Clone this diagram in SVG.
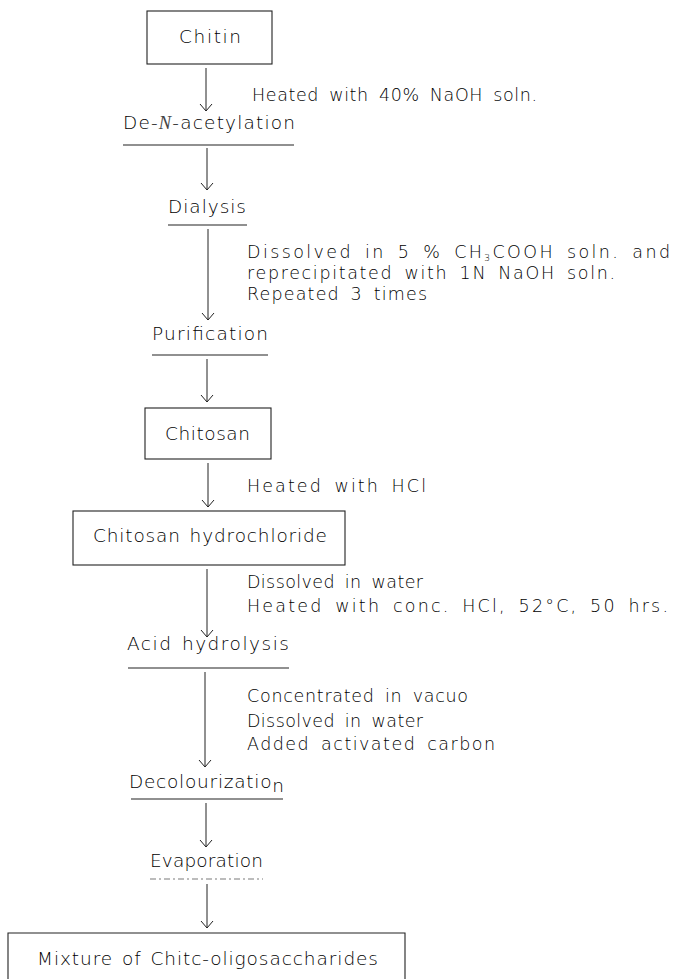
<svg xmlns="http://www.w3.org/2000/svg" width="676" height="979" viewBox="0 0 676 979">
<style>
text{font-family:"DejaVu Sans","Open Sans",sans-serif;font-weight:200;fill:#000;}
.lb{font-size:18.5px;word-spacing:2px;}
.an{font-size:17.5px;word-spacing:4px;}
.it{font-family:"Liberation Serif",serif;font-style:italic;font-weight:400;fill:#444;}
.box{fill:none;stroke:#222;stroke-width:1.1;}
.ul{stroke:#222;stroke-width:1.1;}
.ar{stroke:#222;stroke-width:1;fill:none;}
</style>
<defs>
<marker id="ah" viewBox="-9 -7 10 14" markerWidth="10" markerHeight="14" refX="0" refY="0" orient="auto" markerUnits="userSpaceOnUse">
<path d="M-7,-6 L0,0 L-7,6" fill="none" stroke="#222" stroke-width="1"/>
</marker>
</defs>
<rect width="676" height="979" fill="#fff"/>

<g id="chitin">
<rect class="box" x="147" y="11" width="125" height="53"/>
<text class="lb" x="179" y="43" textLength="62" lengthAdjust="spacing">Chitin</text>
</g>

<g id="deacetylation">
<text class="lb" x="123" y="129" textLength="172" lengthAdjust="spacing">De-<tspan class="it">N</tspan>-acetylation</text>
<line class="ul" x1="123" y1="145" x2="294" y2="145"/>
</g>

<g id="dialysis">
<text class="lb" x="168" y="213" textLength="78" lengthAdjust="spacing">Dialysis</text>
<line class="ul" x1="168" y1="225" x2="247" y2="225"/>
</g>

<g id="purification">
<text class="lb" x="152" y="340" textLength="116" lengthAdjust="spacing">Purification</text>
<line class="ul" x1="152" y1="355" x2="268" y2="355"/>
</g>

<g id="chitosan">
<rect class="box" x="145" y="408" width="126" height="51"/>
<text class="lb" x="165" y="440" textLength="85" lengthAdjust="spacing">Chitosan</text>
</g>

<g id="chitosan-hydrochloride">
<rect class="box" x="73" y="511" width="272" height="54"/>
<text class="lb" x="93" y="542" textLength="234" lengthAdjust="spacing">Chitosan hydrochloride</text>
</g>

<g id="acid-hydrolysis">
<text class="lb" x="127" y="650" textLength="162" lengthAdjust="spacing">Acid hydrolysis</text>
<line class="ul" x1="128" y1="668" x2="289" y2="668"/>
</g>

<g id="decolourization">
<text class="lb" x="129" y="788" textLength="155" lengthAdjust="spacing">Decolourizatio<tspan dy="4">n</tspan></text>
<line class="ul" x1="131" y1="799" x2="283" y2="799"/>
</g>

<g id="evaporation">
<text class="lb" x="150" y="867" textLength="113" lengthAdjust="spacing">Evaporation</text>
<line class="ul" x1="150" y1="879" x2="263" y2="879" stroke-dasharray="6 3 2 3" stroke-opacity="0.6"/>
</g>

<g id="mixture">
<path class="box" d="M8,985 V933 H405 V985"/>
<text class="lb" x="37" y="965" textLength="341" lengthAdjust="spacing">Mixture of Chitc-oligosaccharides</text>
</g>

<g id="connectors">
<line class="ar" x1="206" y1="68" x2="206" y2="111" marker-end="url(#ah)"/>
<line class="ar" x1="207" y1="148" x2="207" y2="190" marker-end="url(#ah)"/>
<line class="ar" x1="208" y1="229" x2="208" y2="320" marker-end="url(#ah)"/>
<line class="ar" x1="207" y1="359" x2="207" y2="402" marker-end="url(#ah)"/>
<line class="ar" x1="208" y1="463" x2="208" y2="507" marker-end="url(#ah)"/>
<line class="ar" x1="207" y1="569" x2="207" y2="637" marker-end="url(#ah)"/>
<line class="ar" x1="205" y1="672" x2="205" y2="767" marker-end="url(#ah)"/>
<line class="ar" x1="206" y1="803" x2="206" y2="847" marker-end="url(#ah)"/>
<line class="ar" x1="207" y1="884" x2="207" y2="928" marker-end="url(#ah)"/>
</g>

<g id="annotations">
<text class="an" x="252" y="101" textLength="285" lengthAdjust="spacing">Heated with 40% NaOH soln.</text>
<text class="an" x="247" y="258" textLength="423" lengthAdjust="spacing">Dissolved in 5 % CH<tspan font-size="9" dy="3">3</tspan><tspan dy="-3">COOH soln. and</tspan></text>
<text class="an" x="247" y="279" textLength="368" lengthAdjust="spacing">reprecipitated with 1N NaOH soln.</text>
<text class="an" x="247" y="300" textLength="180" lengthAdjust="spacing">Repeated 3 times</text>
<text class="an" x="247" y="492" textLength="179" lengthAdjust="spacing">Heated with HCl</text>
<text class="an" x="247" y="588" textLength="176" lengthAdjust="spacing">Dissolved in water</text>
<text class="an" x="247" y="612" textLength="421" lengthAdjust="spacing">Heated with conc. HCl, 52°C, 50 hrs.</text>
<text class="an" x="247" y="702" textLength="221" lengthAdjust="spacing">Concentrated in vacuo</text>
<text class="an" x="247" y="727" textLength="176" lengthAdjust="spacing">Dissolved in water</text>
<text class="an" x="247" y="750" textLength="248" lengthAdjust="spacing">Added activated carbon</text>
</g>
</svg>
